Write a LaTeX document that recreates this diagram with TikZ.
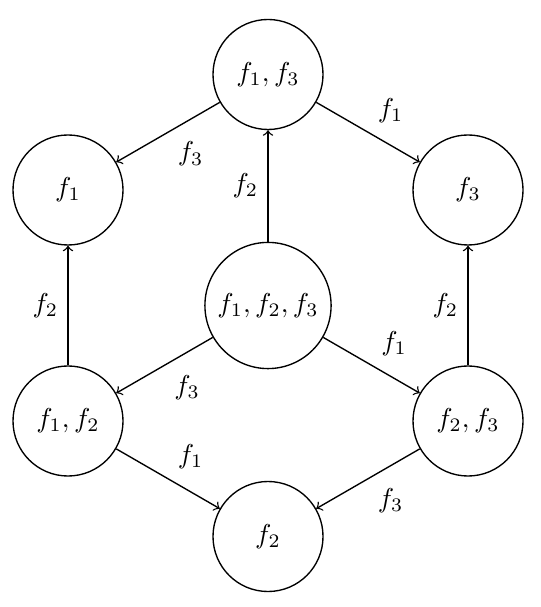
\documentclass[tikz,border=0pt]{standalone}
\begin{document}
\begin{tikzpicture}[x=0.3663pt,y=-0.3663pt,line width=0.5pt,
  state/.style={circle,draw,minimum size=40.3pt,inner sep=3.33pt},
  arr/.style={->}]
\useasboundingbox (0,0) rectangle (540,607);
\node[state] (t)  at (268,74.5)  {$f_1, f_3$};
\node[state] (l)  at (68,190)    {$f_1$};
\node[state] (r)  at (468,190)   {$f_3$};
\node[state] (c)  at (268,305.5) {$f_1, f_2, f_3$};
\node[state] (bl) at (68,421)    {$f_1, f_2$};
\node[state] (br) at (468,421)   {$f_2, f_3$};
\node[state] (b)  at (268,536.5) {$f_2$};
\draw[arr] (c) -- node[left] (e1) {$f_2$} (t);
\draw[arr] (t) -- node[below right] (e2) {$f_3$} (l);
\draw[arr] (t) -- node[above right] (e3) {$f_1$} (r);
\draw[arr] (bl) -- node[left] (e4) {$f_2$} (l);
\draw[arr] (br) -- node[left] (e5) {$f_2$} (r);
\draw[arr] (c) -- node[below right] (e6) {$f_3$} (bl);
\draw[arr] (c) -- node[above right] (e7) {$f_1$} (br);
\draw[arr] (bl) -- node[above right] (e8) {$f_1$} (b);
\draw[arr] (br) -- node[below right] (e9) {$f_3$} (b);
\end{tikzpicture}
\end{document}
